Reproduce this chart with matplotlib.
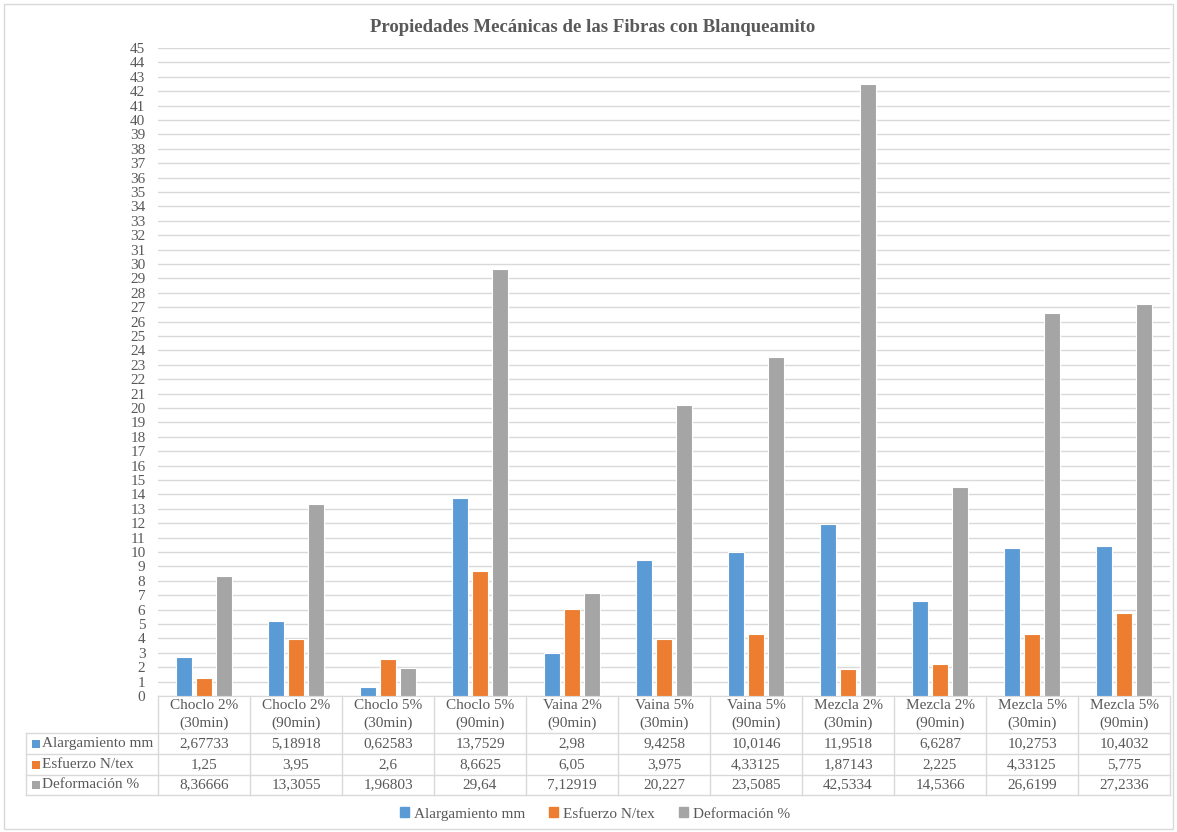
import numpy as np
import matplotlib.pyplot as plt
from matplotlib.patches import Rectangle

categories = ["Choclo 2%\n(30min)", "Choclo 2%\n(90min)", "Choclo 5%\n(30min)", "Choclo 5%\n(90min)",
              "Vaina 2%\n(90min)", "Vaina 5%\n(30min)", "Vaina 5%\n(90min)", "Mezcla 2%\n(30min)",
              "Mezcla 2%\n(90min)", "Mezcla 5%\n(30min)", "Mezcla 5%\n(90min)"]
series = ["Alargamiento mm", "Esfuerzo N/tex", "Deformación %"]
alargamiento = [2.67733, 5.18918, 0.62583, 13.7529, 2.98, 9.4258, 10.0146, 11.9518, 6.6287, 10.2753, 10.4032]
esfuerzo = [1.25, 3.95, 2.6, 8.6625, 6.05, 3.975, 4.33125, 1.87143, 2.225, 4.33125, 5.775]
deformacion = [8.36666, 13.3055, 1.96803, 29.64, 7.12919, 20.227, 23.5085, 42.5334, 14.5366, 26.6199, 27.2336]
alarg_lbl = ["2,67733", "5,18918", "0,62583", "13,7529", "2,98", "9,4258", "10,0146", "11,9518", "6,6287", "10,2753", "10,4032"]
esf_lbl = ["1,25", "3,95", "2,6", "8,6625", "6,05", "3,975", "4,33125", "1,87143", "2,225", "4,33125", "5,775"]
def_lbl = ["8,36666", "13,3055", "1,96803", "29,64", "7,12919", "20,227", "23,5085", "42,5334", "14,5366", "26,6199", "27,2336"]
colors = ["#5B9BD5", "#ED7D31", "#A5A5A5"]

W, H = 1177, 832
plt.rcParams["font.family"] = ["Liberation Serif", "DejaVu Serif"]
TXT = "#595959"
LINE = "#D9D9D9"

fig = plt.figure(figsize=(W / 100, H / 100), dpi=100)
fig.patches.append(Rectangle((4 / W, 3 / H), 1 - 8 / W, 1 - 7 / H, transform=fig.transFigure,
                             fill=False, edgecolor=LINE, lw=1))

x0, x1, ytop, ybot = 158, 1170, 48, 696
ax = fig.add_axes([x0 / W, 1 - ybot / H, (x1 - x0) / W, (ybot - ytop) / H])
n = len(categories)
x = np.arange(n)
width, step = 0.175, 0.222
for i, (vals, c) in enumerate(zip([alargamiento, esfuerzo, deformacion], colors)):
    ax.bar(x + (i - 1) * step, vals, width, color=c, edgecolor="white", lw=0.8, zorder=3)

ax.set_xlim(-0.5, n - 0.5)
ax.set_ylim(0, 45)
ax.set_yticks(range(0, 46))
ax.tick_params(axis="y", length=0, labelsize=11, labelcolor=TXT, pad=9)
ax.set_xticks([])
ax.grid(axis="y", color=LINE, lw=1, zorder=0)
for s in ["top", "right", "left"]:
    ax.spines[s].set_visible(False)
ax.spines["bottom"].set_color(LINE)

fig.text(593 / W, 1 - 27 / H, "Propiedades Mecánicas de las Fibras con Blanqueamito", fontsize=13.5,
         fontweight="bold", color=TXT, ha="center", va="center")

# data table under the axis
def fx(px):
    return px / W

def fy(py):
    return 1 - py / H

col_w = (x1 - x0) / n
tl = 26
row_y = [696, 733, 754, 775, 795]
for k in range(n + 1):
    xx = x0 + k * col_w
    fig.add_artist(plt.Line2D([fx(xx), fx(xx)], [fy(row_y[0]), fy(row_y[-1])], color=LINE, lw=1))
fig.add_artist(plt.Line2D([fx(tl), fx(tl)], [fy(row_y[1]), fy(row_y[-1])], color=LINE, lw=1))
for yy in row_y[1:]:
    fig.add_artist(plt.Line2D([fx(tl), fx(x1)], [fy(yy), fy(yy)], color=LINE, lw=1))

for k, cat in enumerate(categories):
    cx = x0 + (k + 0.5) * col_w
    fig.text(fx(cx), fy((row_y[0] + row_y[1]) / 2), cat, ha="center", va="center",
             fontsize=11, color=TXT, linespacing=1.35)

for r, (name, lbls, c) in enumerate(zip(series, [alarg_lbl, esf_lbl, def_lbl], colors)):
    yc = (row_y[r + 1] + row_y[r + 2]) / 2
    fig.patches.append(Rectangle((fx(tl + 6), fy(yc + 4)), 8 / W, 8 / H, transform=fig.transFigure,
                                 color=c, lw=0))
    fig.text(fx(tl + 16), fy(yc), name, ha="left", va="center", fontsize=11, color=TXT)
    for k, lb in enumerate(lbls):
        cx = x0 + (k + 0.5) * col_w
        fig.text(fx(cx), fy(yc), lb, ha="center", va="center", fontsize=11, color=TXT)

# legend at the bottom
handles = [Rectangle((0, 0), 1, 1, color=c) for c in colors]
fig.legend(handles, series, loc="center", bbox_to_anchor=(fx(595), fy(814)), ncol=3, frameon=False,
           fontsize=11, labelcolor=TXT, handlelength=0.6, handleheight=0.6, handletextpad=0.3,
           columnspacing=1.6)

fig.savefig("out.png", dpi=100)
